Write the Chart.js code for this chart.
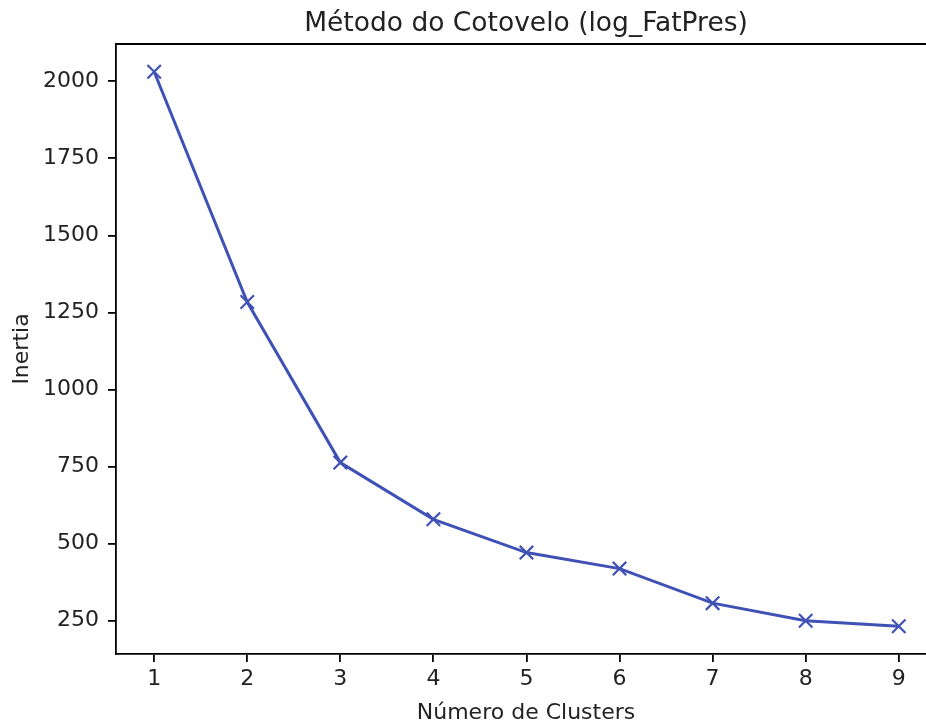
<!DOCTYPE html>
<html>
<head>
<meta charset="utf-8">
<script src="https://cdn.jsdelivr.net/npm/chart.js@4"></script>
<style>
html,body{margin:0;padding:0;background:#fff;overflow:hidden;width:926px;height:724px;}
canvas{display:block;}
</style>
</head>
<body>
<canvas id="c" width="960" height="724" style="width:960px;height:724px"></canvas>
<script>
const clusters = [1, 2, 3, 4, 5, 6, 7, 8, 9];
const inertia = [2031, 1284, 763, 579, 471, 419, 307, 250, 232];
const xTicks = [1, 2, 3, 4, 5, 6, 7, 8, 9];
const yTicks = [250, 500, 750, 1000, 1250, 1500, 1750, 2000];
const titleText = 'Método do Cotovelo (log_FatPres)';
const xLabel = 'Número de Clusters';
const yLabel = 'Inertia';

const FONT = '"DejaVu Sans", sans-serif';
const lineColor = '#3F51B5';

const textPlugin = {
  id: 'texts',
  afterDraw(chart) {
    const ctx = chart.ctx, a = chart.chartArea;
    const xs = chart.scales.x;
    const cx = (xs.getPixelForValue(0.59) + xs.getPixelForValue(9.4)) / 2;
    ctx.save();
    // keep the strip beyond the last marker clean
    ctx.fillStyle = '#fff';
    ctx.fillRect(912, a.top + 1.5, chart.width - 912, a.bottom - a.top - 3);
    // top spine (right spine lies outside the picture)
    ctx.strokeStyle = '#000';
    ctx.lineWidth = 1.8;
    ctx.beginPath();
    ctx.moveTo(a.left - 0.9, a.top);
    ctx.lineTo(chart.width, a.top);
    ctx.stroke();
    ctx.fillStyle = '#222';
    ctx.textAlign = 'center';
    ctx.textBaseline = 'alphabetic';
    ctx.font = '26.5px ' + FONT;
    ctx.fillText(titleText, cx, 31);
    ctx.font = '22px ' + FONT;
    ctx.fillText(xLabel, cx, 719);
    ctx.translate(28, (a.top + a.bottom) / 2);
    ctx.rotate(-Math.PI / 2);
    ctx.fillText(yLabel, 0, 0);
    ctx.restore();
  }
};

new Chart(document.getElementById('c'), {
  type: 'line',
  data: {
    datasets: [{
      data: clusters.map((c, i) => ({ x: c, y: inertia[i] })),
      borderColor: lineColor,
      backgroundColor: lineColor,
      borderWidth: 3,
      pointStyle: 'crossRot',
      pointRadius: 9.5,
      pointBorderWidth: 2.2,
      pointBorderColor: lineColor,
      tension: 0,
      fill: false,
      clip: false
    }]
  },
  options: {
    responsive: false,
    animation: false,
    devicePixelRatio: 1,
    layout: { padding: { top: 44, right: 24, left: 0, bottom: 0 } },
    plugins: { legend: { display: false }, tooltip: { enabled: false }, title: { display: false } },
    scales: {
      x: {
        type: 'linear',
        min: 0.59,
        max: 9.4,
        afterBuildTicks: s => { s.ticks = xTicks.map(v => ({ value: v })); },
        afterFit: s => { s.height = 70; },
        grid: { drawOnChartArea: false, drawTicks: true, tickLength: 8, color: '#000', lineWidth: 1.8 },
        border: { display: true, color: '#000', width: 1.8 },
        ticks: { color: '#222', font: { family: FONT, size: 22 }, padding: 4, maxRotation: 0, autoSkip: false }
      },
      y: {
        type: 'linear',
        min: 142,
        max: 2121,
        afterBuildTicks: s => { s.ticks = yTicks.map(v => ({ value: v })); },
        afterFit: s => { s.width = 116; },
        grid: { drawOnChartArea: false, drawTicks: true, tickLength: 8, color: '#000', lineWidth: 1.8 },
        border: { display: true, color: '#000', width: 1.8 },
        ticks: { color: '#222', font: { family: FONT, size: 22 }, padding: 9, autoSkip: false,
                 callback: v => String(v) }
      }
    }
  },
  plugins: [textPlugin]
});
</script>
</body>
</html>
